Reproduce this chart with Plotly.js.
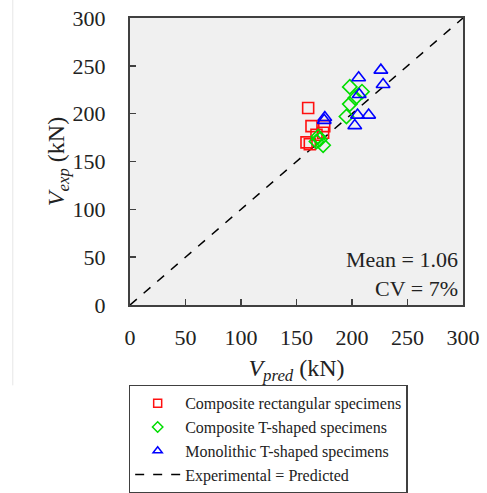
<!DOCTYPE html>
<html>
<head>
<meta charset="utf-8">
<script src="https://cdn.plot.ly/plotly-3.0.1.min.js"></script>
<style>html,body{margin:0;padding:0;background:#fff;}#chart{width:487px;height:493px;}</style>
</head>
<body>
<div id="chart"></div>
<script>
// Composite rectangular specimens
const rectPred = [160.5, 163.5, 175, 174, 159, 162, 168];
const rectExp  = [206, 187, 187, 180, 170, 168, 178];
// Composite T-shaped specimens
const compTPred = [198, 209, 203, 198, 195, 169.5, 168, 174, 171];
const compTExp  = [228, 223, 216.5, 210, 197, 176, 171, 167, 173];
// Monolithic T-shaped specimens
const monoTPred = [206, 226, 228, 206.5, 205, 215, 202.5, 175.5, 175];
const monoTExp  = [237.5, 245.5, 230.5, 220, 198.5, 198.5, 187.5, 196, 193];
// Experimental = Predicted line
const lineX = [0, 300];
const lineY = [0, 300];
const tickVals = [0, 50, 100, 150, 200, 250, 300];
const names = ["Composite rectangular specimens", "Composite T-shaped specimens", "Monolithic T-shaped specimens", "Experimental = Predicted"];
const statsText = "Mean = 1.06<br>CV = 7%";

const FONT = "Liberation Serif";
const RED = "#ff1010", GREEN = "#00dd00", BLUE = "#0000ff";

const traces = [
  {x: lineX, y: lineY, mode: "lines", type: "scatter", name: names[3], legendrank: 4,
   line: {color: "#000000", width: 1.5, dash: "dash"}},
  {x: rectPred, y: rectExp, mode: "markers", type: "scatter", name: names[0], showlegend: false,
   marker: {symbol: "square-open", size: 11, color: RED, line: {width: 1.6}}},
  {x: compTPred, y: compTExp, mode: "markers", type: "scatter", name: names[1], showlegend: false,
   marker: {symbol: "diamond-open", size: 11, color: GREEN, line: {width: 1.6}}},
  {x: monoTPred, y: monoTExp, mode: "markers", type: "scatter", name: names[2], showlegend: false,
   marker: {symbol: "triangle-up-open", size: 12, color: BLUE, line: {width: 1.6}}},
  // legend entries with smaller symbols (no data points)
  {x: [null], y: [null], mode: "markers", type: "scatter", name: names[0], legendrank: 1,
   marker: {symbol: "square-open", size: 8, color: RED, line: {width: 1.5}}},
  {x: [null], y: [null], mode: "markers", type: "scatter", name: names[1], legendrank: 2,
   marker: {symbol: "diamond-open", size: 8, color: GREEN, line: {width: 1.5}}},
  {x: [null], y: [null], mode: "markers", type: "scatter", name: names[2], legendrank: 3,
   marker: {symbol: "triangle-up-open", size: 8, color: BLUE, line: {width: 1.5}}}
];

const axisCommon = {
  range: [0, 300], tickvals: tickVals, showgrid: false, zeroline: false,
  showline: true, linecolor: "#404040", linewidth: 2, mirror: true,
  ticks: "inside", ticklen: 6, tickwidth: 1.5, tickcolor: "#404040",
  tickfont: {family: FONT, size: 22, color: "#222"}
};

const layout = {
  width: 487, height: 493,
  margin: {l: 130, r: 24, t: 18, b: 188, autoexpand: false},
  paper_bgcolor: "#ffffff", plot_bgcolor: "#f0f0f0",
  showlegend: true,
  xaxis: Object.assign({}, axisCommon, {
    ticklabelstandoff: 12,
    title: {text: "<i>V<sub>pred</sub></i> (kN)", font: {family: FONT, size: 24, color: "#222"}, standoff: 10}
  }),
  yaxis: Object.assign({}, axisCommon, {
    ticklabelstandoff: 18,
    title: {text: "<i>V<sub>exp</sub></i> (kN)", font: {family: FONT, size: 24, color: "#222"}, standoff: 0}
  }),
  legend: {
    x: -0.004, y: -0.278, xanchor: "left", yanchor: "top",
    bordercolor: "#404040", borderwidth: 1.5, bgcolor: "#ffffff",
    font: {family: FONT, size: 16, color: "#222"},
    traceorder: "normal", itemwidth: 45, entrywidth: 288
  },
  annotations: [{
    xref: "paper", yref: "paper", x: 0.99, y: 0.007, xanchor: "right", yanchor: "bottom",
    align: "right", showarrow: false, text: statsText,
    font: {family: FONT, size: 22, color: "#222"}
  }],
  shapes: [{
    type: "line", xref: "paper", yref: "paper", x0: -0.352, x1: -0.352, y0: 1.063, y1: -0.28,
    line: {color: "#e6e6e6", width: 1}
  }]
};

Plotly.newPlot("chart", traces, layout, {displayModeBar: false, staticPlot: true});
</script>
</body>
</html>
